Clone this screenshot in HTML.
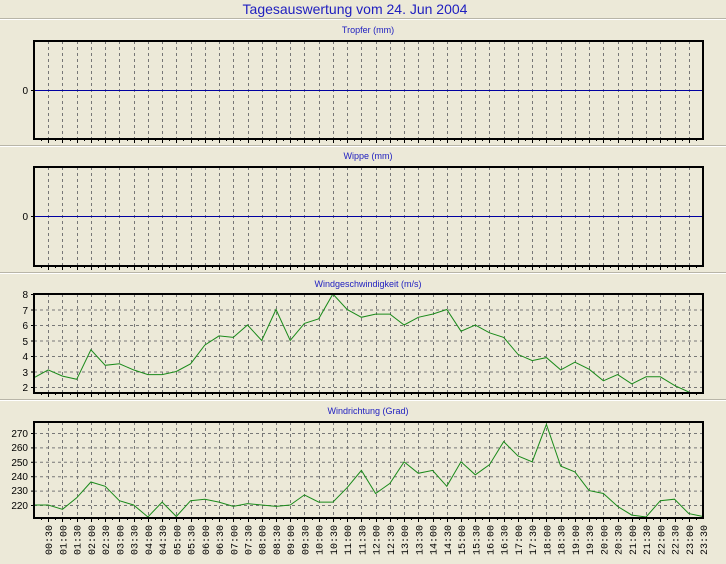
<!DOCTYPE html>
<html><head><meta charset="utf-8"><style>
body{margin:0;background:#ECE9D8;}
svg{display:block;font-family:"Liberation Sans",sans-serif;}
</style></head><body>
<svg id="s" width="726" height="564" xmlns="http://www.w3.org/2000/svg">
<rect width="726" height="564" fill="#ECE9D8"/>
<text x="355" y="14" font-size="14" fill="#2020c0" text-anchor="middle">Tagesauswertung vom 24. Jun 2004</text>
<g stroke="#b8b5a8"><line x1="0" y1="18.5" x2="726" y2="18.5"/><line x1="0" y1="145.5" x2="726" y2="145.5"/><line x1="0" y1="272.5" x2="726" y2="272.5"/><line x1="0" y1="399.5" x2="726" y2="399.5"/></g>
<g stroke="#fff"><line x1="0" y1="19.5" x2="726" y2="19.5"/><line x1="0" y1="146.5" x2="726" y2="146.5"/><line x1="0" y1="273.5" x2="726" y2="273.5"/><line x1="0" y1="400.5" x2="726" y2="400.5"/></g>
<g font-size="9" fill="#2020c0" text-anchor="middle">
<text x="368" y="33">Tropfer (mm)</text>
<text x="368" y="159">Wippe (mm)</text>
<text x="368" y="287">Windgeschwindigkeit (m/s)</text>
<text x="368" y="414">Windrichtung (Grad)</text>
</g>
<g id="grid"></g>
<g font-size="10" fill="#000" text-anchor="end">
<text x="28" y="94">0</text>
<text x="28" y="220">0</text>
<text x="28" y="298">8</text><text x="28" y="314">7</text><text x="28" y="329">6</text><text x="28" y="345">5</text><text x="28" y="360">4</text><text x="28" y="376">3</text><text x="28" y="391">2</text>
<text x="28" y="437">270</text><text x="28" y="451">260</text><text x="28" y="466">250</text><text x="28" y="480">240</text><text x="28" y="494">230</text><text x="28" y="509">220</text>
</g>
<g font-family="Liberation Mono,monospace" font-size="10" fill="#000" text-anchor="end" id="tl">
<text>00:30</text><text>01:00</text><text>01:30</text><text>02:00</text><text>02:30</text><text>03:00</text><text>03:30</text><text>04:00</text><text>04:30</text><text>05:00</text><text>05:30</text><text>06:00</text><text>06:30</text><text>07:00</text><text>07:30</text><text>08:00</text><text>08:30</text><text>09:00</text><text>09:30</text><text>10:00</text><text>10:30</text><text>11:00</text><text>11:30</text><text>12:00</text><text>12:30</text><text>13:00</text><text>13:30</text><text>14:00</text><text>14:30</text><text>15:00</text><text>15:30</text><text>16:00</text><text>16:30</text><text>17:00</text><text>17:30</text><text>18:00</text><text>18:30</text><text>19:00</text><text>19:30</text><text>20:00</text><text>20:30</text><text>21:00</text><text>21:30</text><text>22:00</text><text>22:30</text><text>23:00</text><text>23:30</text>
</g>
</svg>
<script>
var NS="http://www.w3.org/2000/svg",g=document.getElementById("grid");
function el(t,a){var e=document.createElementNS(NS,t);for(var k in a)e.setAttribute(k,a[k]);g.appendChild(e);return e;}
var L=34,R=703,dx=(R-L)/47;
var panels=[[41,139],[167,266],[294,393],[422,518]];
panels.forEach(function(p){
 for(var i=1;i<47;i++){var x=Math.round(L+i*dx)+.5;el("line",{x1:x,y1:p[0],x2:x,y2:p[1],stroke:"#777","stroke-dasharray":"3,3","stroke-width":1});}
 for(var i=1;i<94;i++){var x=Math.round(L+i*dx/2)+.5;el("line",{x1:x,y1:p[1],x2:x,y2:p[1]+(i%2?2:4),stroke:"#000"});}
});
function hg(y,p){el("line",{x1:L,y1:y,x2:R,y2:y,stroke:"#777","stroke-dasharray":"3,3"});el("line",{x1:L-3,y1:y,x2:L,y2:y,stroke:"#000"});}
for(var v=2;v<=8;v++)hg(387-(v-2)*15.5+.5);
for(var v=220;v<=270;v+=10)hg(505-(v-220)*1.44+.5);
el("line",{x1:L,y1:90.5,x2:R,y2:90.5,stroke:"#0000a0"});el("line",{x1:L-3,y1:90.5,x2:L,y2:90.5,stroke:"#000"});
el("line",{x1:L,y1:216.5,x2:R,y2:216.5,stroke:"#0000a0"});el("line",{x1:L-3,y1:216.5,x2:L,y2:216.5,stroke:"#000"});
var ws=[2.6,3.1,2.7,2.5,4.4,3.4,3.5,3.1,2.8,2.8,3.0,3.5,4.7,5.3,5.2,6.0,5.0,7.0,5.0,6.1,6.4,8.0,7.0,6.5,6.7,6.7,6.0,6.5,6.7,7.0,5.6,6.0,5.5,5.2,4.1,3.7,3.9,3.1,3.6,3.15,2.4,2.8,2.2,2.66,2.66,2.1,1.6];
var wd=[220,220,217,225,236,233,223,220,211,222,212,223,224,222,219,221,220,219,220,227,222,222,232,244,228,235,250,242,244,233,250,241,248,264,254,250,276,247,243,230,228,219,213,211,223,224,214,212];
function pl(arr,f){return arr.map(function(v,i){return (L+i*dx).toFixed(1)+","+f(v).toFixed(1);}).join(" ");}
el("polyline",{points:pl(ws,function(v){return Math.min(392,387-(v-2)*15.5);}),fill:"none",stroke:"#1a8a1a"});
el("polyline",{points:pl(wd,function(v){return Math.min(517,505-(v-220)*1.44);}),fill:"none",stroke:"#1a8a1a"});
panels.forEach(function(p){el("rect",{x:L,y:p[0],width:R-L,height:p[1]-p[0],fill:"none",stroke:"#000","stroke-width":2});});
var t=document.getElementById("tl").children;
for(var i=0;i<t.length;i++){var x=L+(i+1)*dx+4;t[i].setAttribute("transform","translate("+x.toFixed(1)+",525) rotate(-90)");}
</script>
</body></html>
